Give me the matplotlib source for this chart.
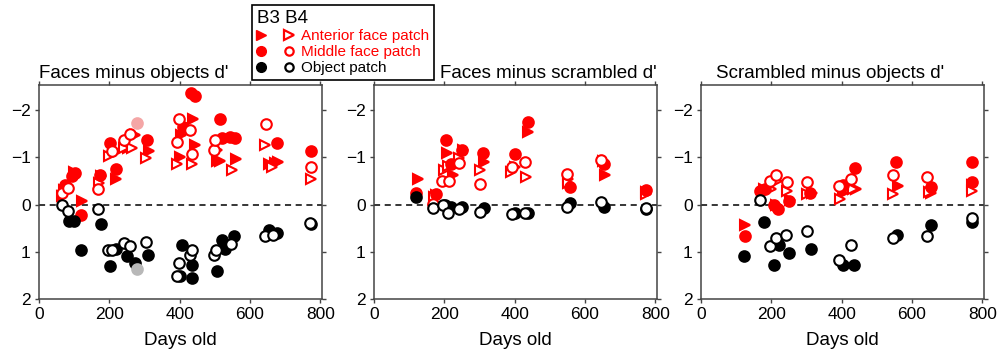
import matplotlib
matplotlib.use("Agg")
from matplotlib import pyplot as plt
from matplotlib.lines import Line2D
from matplotlib.legend_handler import HandlerTuple

plt.rcParams['font.family'] = ['Liberation Sans', 'DejaVu Sans']

RED = '#ff0000'

# panel 1: faces minus objects d'  (day, d')
fo_b3_ant = [(66, -0.17), (99, -0.68), (122, -0.07), (175, -0.6), (220, -0.55), (253, -1.2),
             (273, -1.48), (312, -1.14), (402, -1.0), (405, -1.47), (437, -1.8), (445, -1.25),
             (505, -0.93), (516, -0.93), (559, -0.96), (653, -0.85), (672, -0.87), (680, -0.9)]
fo_b4_ant = [(70, -0.3), (170, -0.46), (199, -1.02), (241, -1.2), (265, -1.2), (303, -0.99),
             (393, -0.85), (435, -0.85), (506, -1.16), (549, -0.73), (644, -1.25), (663, -0.8),
             (774, -0.55)]
fo_b3_mid = [(73, -0.42), (95, -0.6), (102, -0.67), (120, 0.23), (173, -0.63), (203, -1.3),
             (220, -0.76), (307, -1.37), (409, -1.65), (431, -2.37), (443, -2.3), (514, -1.81),
             (521, -1.41), (544, -1.42), (557, -1.4), (677, -1.3), (774, -1.13)]
fo_b4_mid = [(66, -0.25), (83, -0.36), (168, -0.32), (208, -1.14), (241, -1.37), (258, -1.49),
             (393, -1.32), (398, -1.81), (429, -1.58), (435, -1.06), (497, -1.15), (502, -1.37),
             (646, -1.71), (773, -0.8)]
fo_b3_obj = [(85, 0.35), (99, 0.35), (120, 0.96), (175, 0.41), (203, 1.3), (220, 0.94),
             (251, 1.09), (273, 1.23), (310, 1.06), (402, 1.51), (407, 0.85), (435, 1.27),
             (435, 1.56), (506, 1.41), (520, 0.76), (528, 0.95), (554, 0.67), (653, 0.54),
             (677, 0.61), (774, 0.42)]
fo_b4_obj = [(66, 0.0), (83, 0.14), (168, 0.1), (197, 0.96), (208, 0.97), (241, 0.81),
             (260, 0.87), (303, 0.8), (393, 1.51), (398, 1.23), (429, 1.07), (435, 0.96),
             (497, 1.07), (504, 0.96), (547, 0.83), (644, 0.67), (667, 0.65), (772, 0.4)]
fo_faded_mid = [(279, -1.72)]
fo_faded_obj = [(279, 1.36)]

# panel 2: faces minus scrambled d'
fs_b3_ant = [(124, -0.55), (176, -0.2), (207, -1.1), (224, -0.63), (254, -1.15), (313, -0.9),
             (401, -0.8), (439, -1.54), (553, -0.54), (657, -0.62), (775, -0.27)]
fs_b4_ant = [(172, -0.16), (200, -0.73), (211, -0.82), (243, -0.99), (301, -0.73), (390, -0.69),
             (432, -0.58), (551, -0.46), (650, -0.92), (775, -0.23)]
fs_b3_mid = [(119, -0.25), (176, -0.23), (205, -1.36), (219, -0.85), (249, -1.15), (311, -1.1),
             (401, -1.06), (437, -1.75), (557, -0.37), (654, -0.85), (774, -0.3)]
fs_b4_mid = [(169, -0.02), (194, -0.49), (213, -0.5), (243, -0.87), (301, -0.44), (392, -0.8),
             (429, -0.9), (548, -0.65), (647, -0.94)]
fs_b3_obj = [(119, -0.16), (202, 0.01), (219, 0.05), (251, 0.06), (313, 0.07), (401, 0.17),
             (439, 0.18), (557, -0.04), (654, 0.05), (775, 0.1)]
fs_b4_obj = [(169, 0.08), (197, 0.01), (211, 0.19), (243, 0.1), (301, 0.15), (392, 0.2),
             (429, 0.19), (548, 0.05), (645, -0.06), (775, 0.07)]

# panel 3: scrambled minus objects d'
so_b3_ant = [(125, 0.43), (179, -0.33), (212, 0.0), (254, -0.1), (315, -0.24), (403, -0.24),
             (440, -0.33), (560, -0.39), (654, -0.24), (772, -0.41)]
so_b4_ant = [(198, -0.33), (216, -0.5), (245, -0.29), (301, -0.22), (395, -0.12), (433, -0.33),
             (546, -0.22), (649, -0.26), (772, -0.28)]
so_b3_mid = [(124, 0.67), (169, -0.29), (182, -0.33), (207, 0.0), (219, 0.09), (251, -0.07),
             (311, -0.24), (403, -0.41), (438, -0.78), (555, -0.91), (654, -0.38), (770, -0.89),
             (770, -0.48)]
so_b4_mid = [(196, -0.5), (213, -0.62), (245, -0.47), (301, -0.47), (393, -0.4), (428, -0.53),
             (546, -0.62), (643, -0.58)]
so_b3_obj = [(122, 1.09), (179, 0.36), (207, 1.28), (221, 0.86), (251, 1.02), (312, 0.95),
             (403, 1.28), (436, 1.28), (557, 0.65), (654, 0.43), (770, 0.36)]
so_b4_obj = [(169, -0.1), (196, 0.88), (213, 0.7), (243, 0.65), (301, 0.57), (393, 1.18),
             (428, 0.85), (546, 0.7), (643, 0.67), (770, 0.29)]

titles = ["Faces minus objects d'", "Faces minus scrambled d'", "Scrambled minus objects d'"]
panels = [
    [fo_b3_ant, fo_b4_ant, fo_b3_mid, fo_b4_mid, fo_b3_obj, fo_b4_obj],
    [fs_b3_ant, fs_b4_ant, fs_b3_mid, fs_b4_mid, fs_b3_obj, fs_b4_obj],
    [so_b3_ant, so_b4_ant, so_b3_mid, so_b4_mid, so_b3_obj, so_b4_obj],
]
xticks = [0, 200, 400, 600, 800]
yticks = [-2, -1, 0, 1, 2]

# marker, colour, filled
styles = [('>', RED, True), ('>', RED, False), ('o', RED, True),
          ('o', RED, False), ('o', 'black', True), ('o', 'black', False)]


def draw(ax, pts, marker, color, filled, ms=7.6):
    xs = [p[0] for p in pts]
    ys = [p[1] for p in pts]
    ax.plot(xs, ys, ls='none', marker=marker, ms=ms, mec=color,
            mfc=color if filled else 'white', mew=1.5, zorder=3)


fig = plt.figure(figsize=(9.98, 3.57), dpi=100)
lefts = [39 / 998, 374 / 998, 701 / 998]
title_pos = [(0.0, 'left'), (1.0, 'right'), (0.457, 'center')]

for i in range(3):
    ax = fig.add_axes([lefts[i], 58 / 357, 283 / 998, 214 / 357])
    ax.axhline(0, color='black', ls='--', lw=1.1, dashes=(4, 3), zorder=2)
    for pts, (m, c, f) in zip(panels[i], styles):
        draw(ax, pts, m, c, f)
    if i == 0:
        draw(ax, fo_faded_mid, 'o', '#f4a6a6', True)
        draw(ax, fo_faded_obj, 'o', '#b8b8b8', True)
    ax.set_xlim(0, 805)
    ax.set_ylim(2, -2.53)
    ax.set_xticks(xticks)
    ax.set_yticks(yticks)
    ax.tick_params(labelsize=12.5, direction='out', length=3, width=1, color='#444444',
                   top=True, right=True, pad=3)
    for s in ax.spines.values():
        s.set_color('#444444')
        s.set_linewidth(1.1)
    ax.set_xlabel('Days old', fontsize=13.5, labelpad=7)
    tx, ha = title_pos[i]
    ax.text(tx, 1.033, titles[i], transform=ax.transAxes, ha=ha, va='baseline', fontsize=13.5)

# legend: B3 filled, B4 open
h_ant = (Line2D([], [], ls='none', marker='>', ms=7, mfc=RED, mec=RED),
         Line2D([], [], ls='none', marker='>', ms=7, mfc='white', mec=RED, mew=1.6))
h_mid = (Line2D([], [], ls='none', marker='o', ms=7, mfc=RED, mec=RED),
         Line2D([], [], ls='none', marker='o', ms=6, mfc='white', mec=RED, mew=1.6))
h_obj = (Line2D([], [], ls='none', marker='o', ms=7, mfc='black', mec='black'),
         Line2D([], [], ls='none', marker='o', ms=6, mfc='white', mec='black', mew=1.6))
leg = fig.legend([h_ant, h_mid, h_obj], ['Anterior face patch', 'Middle face patch', 'Object patch'],
                 handler_map={tuple: HandlerTuple(ndivide=None, pad=1.3)},
                 title='B3 B4', title_fontsize=13.5, alignment='left', fontsize=11,
                 labelcolor=[RED, RED, 'black'], loc='upper left',
                 bbox_to_anchor=(252 / 998, 1 - 5 / 357), frameon=True, fancybox=False,
                 edgecolor='black', framealpha=1, handlelength=2.4, handletextpad=0.5,
                 labelspacing=0.15, borderpad=0.3, borderaxespad=0)
leg.get_frame().set_linewidth(1.2)
leg.set_zorder(10)

fig.savefig('out.png', dpi=100)
